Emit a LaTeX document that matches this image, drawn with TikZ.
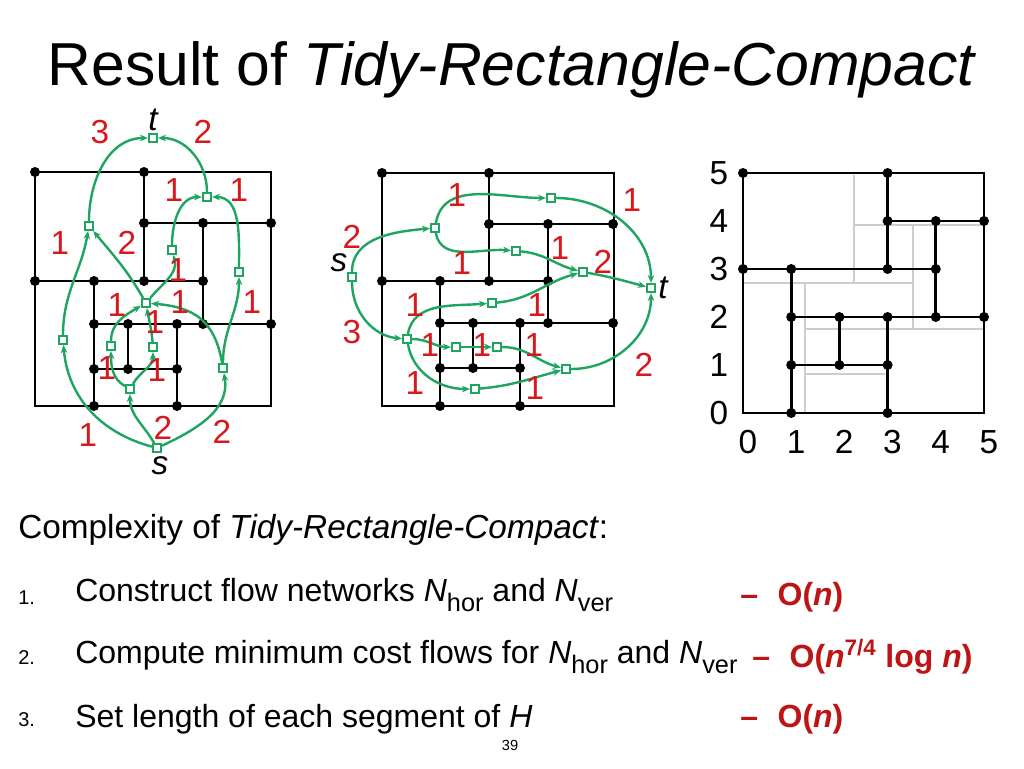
\documentclass[tikz,border=0pt]{standalone}
\usepackage{fontspec}
\setmainfont{Liberation Sans}
\usetikzlibrary{arrows.meta}
\definecolor{gr}{RGB}{30,165,95}
\definecolor{rd}{RGB}{215,25,30}
\definecolor{drd}{RGB}{190,20,20}
\definecolor{lg}{RGB}{205,205,205}
\tikzset{
 dot/.style={circle,fill=black,inner sep=0pt,minimum size=7.5pt},
 sq/.style={draw=gr,fill=white,line width=1.6pt,inner sep=0pt,minimum size=6pt},
 fl/.style={draw=gr,line width=1.8pt,-{Stealth[length=6pt,width=5pt]}},
 bl/.style={line width=2.2pt,black},
 lab/.style={text=rd,font=\fontsize{25}{25}\selectfont,inner sep=0pt},
 ax/.style={font=\fontsize{25}{25}\selectfont,inner sep=0pt},
 tx/.style={font=\fontsize{25}{28}\selectfont,inner sep=0pt,anchor=west},
 num/.style={font=\fontsize{15}{15}\selectfont,inner sep=0pt,anchor=west},
 cx/.style={font=\fontsize{24}{28}\selectfont\bfseries,text=drd,inner sep=0pt,anchor=west}
}
\begin{document}
\begin{tikzpicture}[x=0.75pt,y=0.75pt]
\useasboundingbox[fill=white] (0,0) rectangle (1024,-768);
% title
\node[font=\fontsize{45.5}{48}\selectfont,inner sep=0pt] (title) at (512,-70) {Result of \textit{Tidy-Rectangle-Compact}};
% ---------- left diagram ----------
\begin{scope}[bl]
\draw (35,-172) rectangle (271,-406);
\draw (144,-172)--(144,-281);
\draw (144,-223)--(271,-223);
\draw (35,-281)--(203,-281);
\draw (203,-223)--(203,-324);
\draw (94,-324)--(271,-324);
\draw (94,-281)--(94,-406);
\draw (128,-324)--(128,-369);
\draw (94,-369)--(177,-369);
\draw (177,-324)--(177,-406);
\end{scope}
\foreach \p [count=\i] in {(35,-172),(144,-172),(144,-223),(203,-223),(271,-223),(35,-281),(94,-281),(144,-281),(203,-281),(94,-324),(128,-324),(177,-324),(203,-324),(271,-324),(94,-369),(128,-369),(177,-369),(94,-406),(177,-406)}
  \node[dot] (L\i) at \p {};
\node[sq] (Lt) at (153,-138) {};
\node[sq] (LA) at (89,-226) {};
\node[sq] (LB) at (207,-197) {};
\node[sq] (LC) at (172,-250) {};
\node[sq] (LD) at (239,-272) {};
\node[sq] (LE) at (146,-303) {};
\node[sq] (LF) at (63,-340) {};
\node[sq] (LG) at (111,-346) {};
\node[sq] (LH) at (153,-347) {};
\node[sq] (LI) at (223,-368) {};
\node[sq] (LJ) at (130,-389) {};
\node[sq] (Ls) at (157,-448) {};
\draw[fl] (Ls) to[out=165,in=-85] (LF);
\draw[fl] (Ls) to[out=120,in=-90] (LJ);
\draw[fl] (Ls) to[out=25,in=-80] (LI);
\draw[fl] (LF) to[out=90,in=-100] (LA);
\draw[fl] (LA) to[out=90,in=180] (Lt);
\draw[fl] (LB) to[out=90,in=0] (Lt);
\draw[fl] (LE) to[out=120,in=-50] (LA);
\draw[fl] (LE) to[out=50,in=-75] (LC);
\draw[fl] (LC) to[out=90,in=180] (LB);
\draw[fl] (LD) to[out=90,in=0] (LB);
\draw[fl] (LI) to[out=90,in=-90] (LD);
\draw[fl] (LI) to[out=100,in=-5,looseness=1.2] (LE);
\draw[fl] (LJ) to[out=150,in=-90] (LG);
\draw[fl] (LJ) to[out=60,in=-90] (LH);
\draw[fl] (LG) to[out=90,in=-150] (LE);
\draw[fl] (LH) to[out=95,in=-80] (LE);
\node[ax,font=\fontsize{25}{25}\selectfont\itshape] (lt) at (153,-120) {t};
\node[ax,font=\fontsize{25}{25}\selectfont\itshape] (ls) at (160,-466) {s};
\foreach \p/\t [count=\i] in {(100,-132)/3,(203,-132)/2,(174,-190)/1,(239,-190)/1,(60,-243)/1,(127,-243)/2,(178,-270)/1,(252,-302)/1,(117,-305)/1,(180,-302)/1,(155,-322)/1,(107,-368)/1,(157,-370)/1,(88,-435)/1,(163,-428)/2,(222,-432)/2}
  \node[lab] (ll\i) at \p {\t};
% ---------- middle diagram ----------
\begin{scope}[bl]
\draw (382,-173) rectangle (614,-406);
\draw (489,-173)--(489,-281);
\draw (489,-224)--(614,-224);
\draw (548,-224)--(548,-323);
\draw (382,-281)--(548,-281);
\draw (440,-281)--(440,-406);
\draw (440,-323)--(614,-323);
\draw (473,-323)--(473,-368);
\draw (440,-368)--(520,-368);
\draw (520,-323)--(520,-406);
\end{scope}
\foreach \p [count=\i] in {(382,-173),(489,-173),(489,-224),(548,-224),(613,-224),(382,-281),(440,-281),(489,-281),(548,-281),(440,-323),(473,-323),(520,-323),(548,-323),(613,-323),(440,-368),(473,-368),(520,-368),(440,-406),(520,-406)}
  \node[dot] (M\i) at \p {};
\node[sq] (Ms) at (352,-277) {};
\node[sq] (Ma) at (435,-228) {};
\node[sq] (Mb) at (551,-198) {};
\node[sq] (Mc) at (516,-251) {};
\node[sq] (Md) at (583,-272) {};
\node[sq] (Mt) at (651,-288) {};
\node[sq] (Me) at (407,-339) {};
\node[sq] (Mf) at (492,-303) {};
\node[sq] (Mg) at (456,-347) {};
\node[sq] (Mh) at (497,-347) {};
\node[sq] (Mi) at (566,-369) {};
\node[sq] (Mj) at (475,-389) {};
\draw[fl] (Ms) to[out=90,in=185] (Ma);
\draw[fl] (Ms) to[out=-90,in=175] (Me);
\draw[fl] (Ma) to[out=80,in=180] (Mb);
\draw[fl] (Ma) to[out=-80,in=175] (Mc);
\draw[fl] (Mb) to[out=0,in=90] (Mt);
\draw[fl] (Mc) to[out=-5,in=165] (Md);
\draw[fl] (Md) to[out=-10,in=165] (Mt);
\draw[fl] (Me) to[out=80,in=185] (Mf);
\draw[fl] (Mf) to[out=5,in=195] (Md);
\draw[fl] (Me) to[out=0,in=180] (Mg);
\draw[fl] (Mg) to[out=0,in=180] (Mh);
\draw[fl] (Mh) to[out=0,in=165] (Mi);
\draw[fl] (Me) to[out=-80,in=180] (Mj);
\draw[fl] (Mj) to[out=5,in=195] (Mi);
\draw[fl] (Mi) to[out=0,in=-90] (Mt);
\node[ax,font=\fontsize{25}{25}\selectfont\itshape] (ms) at (339,-263) {s};
\node[ax,font=\fontsize{25}{25}\selectfont\itshape] (mt) at (663,-288) {t};
\foreach \p/\t [count=\i] in {(352,-237)/2,(352,-332)/3,(457,-195)/1,(632,-200)/1,(462,-263)/1,(560,-248)/1,(603,-262)/2,(415,-305)/1,(537,-305)/1,(430,-345)/1,(482,-345)/1,(534,-345)/1,(415,-383)/1,(535,-388)/1,(644,-365)/2}
  \node[lab] (ml\i) at \p {\t};
% ---------- right diagram ----------
\begin{scope}[line width=1.8pt,lg]
\draw (854,-175)--(854,-283);
\draw (854,-225)--(983,-225);
\draw (913,-226)--(913,-329);
\draw (743,-283)--(913,-283);
\draw (805,-283)--(805,-412);
\draw (805,-329)--(983,-329);
\draw (805,-374)--(885,-374);
\end{scope}
\begin{scope}[x=48.2*0.75pt,y=48*0.75pt,shift={(743/48.2,-413/48)}]
\begin{scope}[bl]
\draw (0,0) rectangle (5,5);
\draw (0,3)--(4,3);
\draw (3,5)--(3,3);
\draw (3,4)--(5,4);
\draw (4,4)--(4,2);
\draw (1,3)--(1,0);
\draw (1,2)--(5,2);
\draw (1,1)--(3,1);
\draw (2,2)--(2,1);
\draw (3,2)--(3,0);
\end{scope}
\foreach \p [count=\i] in {(0,5),(3,5),(3,4),(4,4),(5,4),(0,3),(1,3),(3,3),(4,3),(1,2),(2,2),(3,2),(4,2),(5,2),(1,1),(2,1),(3,1),(1,0),(3,0)}
  \node[dot] (R\i) at \p {};
\foreach \k in {0,...,5} {
  \node[ax] (ry\k) at (-0.5,\k) {\k};
  \node[ax] (rx\k) at (\k+0.1,-0.6) {\k};
}
\end{scope}
% ---------- bottom text ----------
\node[tx] (cpx) at (18,-530) {Complexity of \textit{Tidy-Rectangle-Compact}:};
\node[num] (n1) at (18,-598) {1.};
\node[num] (n2) at (18,-658) {2.};
\node[num] (n3) at (18,-720) {3.};
\newcommand{\sbs}[1]{\raisebox{-7pt}{\fontsize{19}{19}\selectfont #1}}
\node[tx,font=\fontsize{24}{28}\selectfont] (t1) at (75,-595) {Construct flow networks \textit{N}\sbs{hor} and \textit{N}\sbs{ver}};
\node[tx,font=\fontsize{24}{28}\selectfont] (t2) at (75,-657) {Compute minimum cost flows for \textit{N}\sbs{hor} and \textit{N}\sbs{ver}};
\node[tx,font=\fontsize{24}{28}\selectfont] (t3) at (75,-719) {Set length of each segment of \textit{H}};
\node[cx] (c1) at (740,-597) {–\,\, O(\textit{n})};
\node[cx] (c2) at (752,-657) {–\,\, O(\textit{n}\textsuperscript{7/4} log \textit{n})};
\node[cx] (c3) at (740,-719) {–\,\, O(\textit{n})};
\node[font=\fontsize{11}{11}\selectfont,inner sep=0pt] (pg) at (510,-745) {39};
\end{tikzpicture}
\end{document}
